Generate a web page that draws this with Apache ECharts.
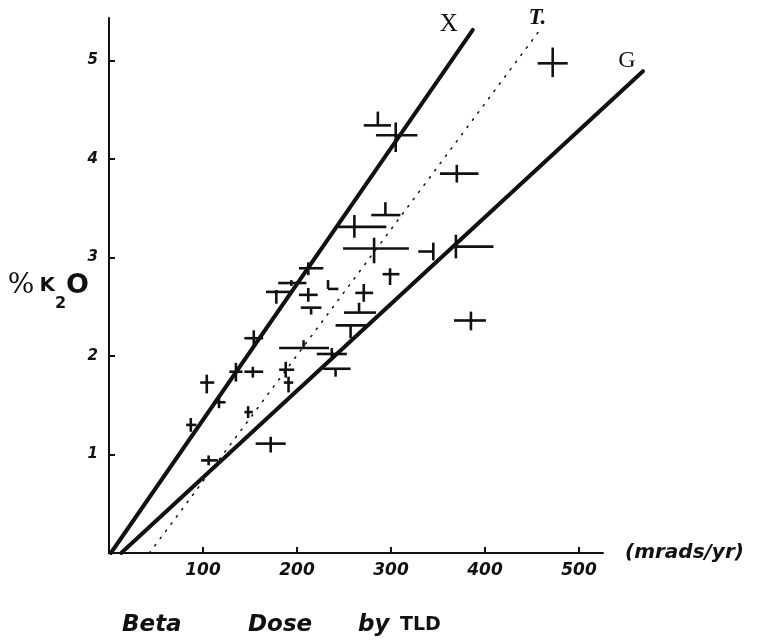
<!DOCTYPE html>
<html>
<head>
<meta charset="utf-8">
<title>Beta Dose by TLD</title>
<script src="https://cdn.jsdelivr.net/npm/echarts@6/dist/echarts.min.js"></script>
<style>
  html, body { margin: 0; padding: 0; background: #fff; }
  #chart { width: 772px; height: 641px; }
</style>
</head>
<body>
<div id="chart"></div>
<script>
// axis ticks
const doseTicks = [100, 200, 300, 400, 500];
const k2oTicks = [1, 2, 3, 4, 5];

// the three reference lines, [dose, %K2O] at each end
const lineX = [[2, 0], [387, 5.31]];
const lineT = [[43, 0], [460, 5.33]];
const lineG = [[13, 0], [568, 4.89]];

// samples: [dose, %K2O, doseLow, doseHigh, k2oLow, k2oHigh]
const samples = [
  [472, 4.97, 456, 488, 4.83, 5.13],
  [286, 4.34, 271, 300, 4.34, 4.48],
  [305, 4.24, 284, 328, 4.07, 4.37],
  [370, 3.85, 352, 393, 3.76, 3.94],
  [294, 3.43, 279, 310, 3.43, 3.56],
  [261, 3.31, 244, 295, 3.20, 3.43],
  [282, 3.09, 249, 319, 2.94, 3.20],
  [345, 3.06, 329, 345, 2.97, 3.15],
  [369, 3.11, 369, 409, 2.99, 3.23],
  [299, 2.83, 291, 309, 2.72, 2.89],
  [271, 2.64, 262, 281, 2.55, 2.73],
  [266, 2.44, 250, 284, 2.44, 2.54],
  [257, 2.31, 241, 276, 2.18, 2.31],
  [385, 2.36, 367, 401, 2.26, 2.45],
  [212, 2.89, 202, 228, 2.82, 2.95],
  [194, 2.74, 180, 210, 2.71, 2.77],
  [178, 2.65, 167, 194, 2.53, 2.67],
  [212, 2.62, 202, 222, 2.55, 2.69],
  [233, 2.68, 233, 244, 2.68, 2.77],
  [215, 2.49, 204, 226, 2.42, 2.49],
  [154, 2.18, 144, 164, 2.11, 2.26],
  [207, 2.08, 181, 234, 2.08, 2.16],
  [237, 2.02, 221, 253, 1.96, 2.08],
  [241, 1.87, 228, 257, 1.79, 1.87],
  [135, 1.84, 128, 142, 1.74, 1.93],
  [153, 1.84, 144, 164, 1.78, 1.89],
  [188, 1.86, 181, 197, 1.78, 1.94],
  [191, 1.73, 186, 196, 1.63, 1.79],
  [104, 1.73, 97, 112, 1.62, 1.81],
  [117, 1.53, 111, 124, 1.47, 1.60],
  [148, 1.43, 144, 153, 1.37, 1.49],
  [87, 1.30, 82, 93, 1.23, 1.37],
  [106, 0.94, 98, 116, 0.89, 0.99],
  [172, 1.11, 156, 188, 1.02, 1.18]
];

const ink = '#111';
const hand = 'DejaVu Sans';

// a reference line with its letter near the upper end (G runs past the axis end)
function refLine(name, pts, dash, width, label, offset, font) {
  return {
    type: 'custom',
    name: name,
    data: [pts[0].concat(pts[1])],
    clip: false,
    silent: true,
    renderItem: function (params, api) {
      const a = api.coord([api.value(0), api.value(1)]);
      const b = api.coord([api.value(2), api.value(3)]);
      return {
        type: 'group',
        children: [
          {
            type: 'line',
            shape: { x1: a[0], y1: a[1], x2: b[0], y2: b[1] },
            style: { stroke: ink, lineWidth: width, lineDash: dash, lineCap: 'round' }
          },
          {
            type: 'text',
            x: b[0] + offset[0],
            y: b[1] + offset[1],
            style: Object.assign({
              text: label, fill: ink, align: 'center', verticalAlign: 'middle'
            }, font)
          }
        ]
      };
    }
  };
}

const chart = echarts.init(document.getElementById('chart'));
chart.setOption({
  animation: false,
  backgroundColor: '#fff',
  title: {
    text: '{a|Beta}{b|Dose}{c|by}{d|TLD}',
    left: 117,
    top: 609,
    textStyle: {
      rich: {
        a: { width: 126, fontFamily: hand, fontStyle: 'italic', fontSize: 23, color: ink },
        b: { width: 110, fontFamily: hand, fontStyle: 'italic', fontSize: 23, color: ink },
        c: { width: 42, fontFamily: hand, fontStyle: 'italic', fontSize: 23, color: ink },
        d: { fontFamily: hand, fontWeight: 'bold', fontSize: 19, color: ink }
      }
    }
  },
  grid: {
    left: 109,
    right: 169,
    top: 18,
    bottom: 88,
    outerBoundsMode: 'none'
  },
  xAxis: {
    type: 'value',
    min: 0,
    max: 525.5,
    name: '(mrads/yr)',
    nameLocation: 'end',
    nameGap: 22,
    nameTextStyle: {
      fontFamily: hand, fontStyle: 'italic', fontWeight: 'bold', fontSize: 20, color: ink
    },
    splitLine: { show: false },
    axisLine: { lineStyle: { color: ink, width: 2 } },
    axisTick: { inside: true, length: 6, customValues: doseTicks, lineStyle: { color: ink, width: 2 } },
    axisLabel: {
      customValues: doseTicks,
      margin: 9,
      fontFamily: hand, fontStyle: 'italic', fontWeight: 'bold', fontSize: 17, color: ink
    }
  },
  yAxis: {
    type: 'value',
    min: 0,
    max: 5.43,
    name: '{p|%}{k|K}{s|2}{o|O}',
    nameLocation: 'middle',
    nameRotate: 0,
    nameGap: 20,
    nameMoveOverlap: false,
    nameTextStyle: {
      rich: {
        p: { fontFamily: 'DejaVu Serif', fontSize: 28, color: ink },
        k: { fontFamily: hand, fontWeight: 'bold', fontSize: 20, color: ink, padding: [0, 0, 0, 5] },
        s: { fontFamily: hand, fontWeight: 'bold', fontSize: 16, color: ink, padding: [36, 0, 0, 0] },
        o: { fontFamily: hand, fontWeight: 'bold', fontSize: 27, color: ink }
      }
    },
    splitLine: { show: false },
    axisLine: { lineStyle: { color: ink, width: 2 } },
    axisTick: { inside: true, length: 6, customValues: k2oTicks, lineStyle: { color: ink, width: 2 } },
    axisLabel: {
      customValues: k2oTicks,
      margin: 11,
      fontFamily: hand, fontStyle: 'italic', fontWeight: 'bold', fontSize: 15, color: ink
    }
  },
  series: [
    refLine('X', lineX, null, 4, 'X', [-24, -5],
      { fontFamily: 'Liberation Serif', fontSize: 25 }),
    refLine('T', lineT, [1.5, 7.5], 1.5, 'T.', [-4, -10],
      { fontFamily: 'Liberation Serif', fontStyle: 'italic', fontWeight: 'bold', fontSize: 23 }),
    refLine('G', lineG, null, 4, 'G', [-16, -11],
      { fontFamily: 'Liberation Serif', fontSize: 24 }),
    {
      // each sample drawn as a cross of its dose and K2O ranges
      type: 'custom',
      name: 'samples',
      data: samples,
      clip: false,
      silent: true,
      renderItem: function (params, api) {
        const x = api.value(0);
        const y = api.value(1);
        const left = api.coord([api.value(2), y]);
        const right = api.coord([api.value(3), y]);
        const low = api.coord([x, api.value(4)]);
        const high = api.coord([x, api.value(5)]);
        const style = { stroke: ink, lineWidth: 2.6, lineCap: 'butt' };
        return {
          type: 'group',
          children: [
            { type: 'line', shape: { x1: left[0], y1: left[1], x2: right[0], y2: right[1] }, style: style },
            { type: 'line', shape: { x1: low[0], y1: low[1], x2: high[0], y2: high[1] }, style: style }
          ]
        };
      }
    }
  ]
});
</script>
</body>
</html>
